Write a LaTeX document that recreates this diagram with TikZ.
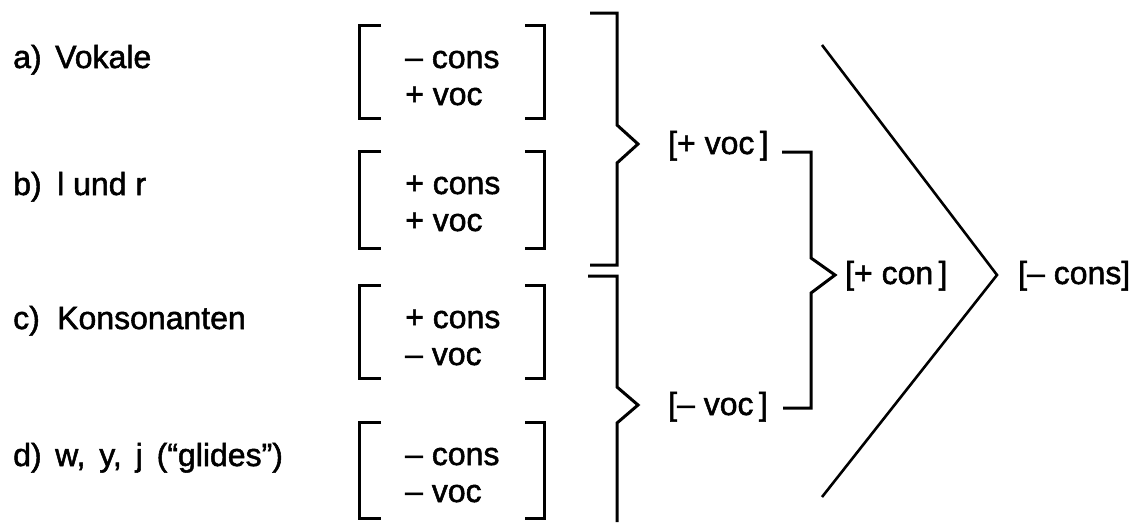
\documentclass[tikz,border=0pt]{standalone}
\usepackage{fontspec}
\setmainfont{Liberation Sans}[FakeBold=1.6]
\begin{document}
\begin{tikzpicture}[x=1pt,y=-1pt,
  txt/.style={inner sep=0pt, anchor=base west, font=\fontsize{32}{38}\selectfont},
  rule/.style={line width=3pt, line join=miter},
  chev/.style={line width=2.6pt, line join=miter},
]
\useasboundingbox (0,0) rectangle (1142,522);

% class labels
\node[txt] (la) at (13,68)  {a)};
\node[txt] (na) at (55,68)  {Vokale};
\node[txt] (lb) at (13,195) {b)};
\node[txt] (nb) at (57,195) {l und r};
\node[txt] (lc) at (13,329) {c)};
\node[txt] (nc) at (57,329) {Konsonanten};
\node[txt] (ld) at (13,466) {d)};
\node[txt] (nd) at (55,466) {w,\hspace{5pt} y,\hspace{5pt} j\hspace{5pt} (“glides”)};

% feature matrices
\node[txt] (a1) at (405,68)  {– cons};
\node[txt] (a2) at (405,105) {+ voc};
\node[txt] (b1) at (405,194) {+ cons};
\node[txt] (b2) at (405,231) {+ voc};
\node[txt] (c1) at (405,328) {+ cons};
\node[txt] (c2) at (405,365) {– voc};
\node[txt] (d1) at (405,465) {– cons};
\node[txt] (d2) at (405,502) {– voc};

\foreach \t/\b in {25/118, 151/248, 285/378, 422/518} {
  \draw[rule] (381,\t) -- (359,\t) -- (359,\b) -- (381,\b);
  \draw[rule] (525,\t) -- (544,\t) -- (544,\b) -- (525,\b);
}

% first-level groupings
\node[txt] (pv) at (668,154) {[+ voc\,]};
\node[txt] (mv) at (668,415) {[– voc\,]};

\draw[rule] (590,13) -- (617,13) -- (617,125) -- (638,144) -- (617,163)
            -- (617,265) -- (590,265);
\draw[rule] (588,276) -- (617,276) -- (617,387) -- (638,405) -- (617,423)
            -- (617,522);

% second-level grouping
\node[txt] (pc) at (845,284) {[+ con\,]};
\coordinate (pvend) at (782,152);
\coordinate (mvend) at (783,408);
\draw[rule] (pvend) -- (811,152) -- (811,258) -- (835,275) -- (811,293)
            -- (811,408) -- (mvend);

% top-level grouping
\node[txt] (mc) at (1018,284) {[– cons]};
\draw[chev] (822,45) -- (997,275) -- (822,497);
\end{tikzpicture}
\end{document}
